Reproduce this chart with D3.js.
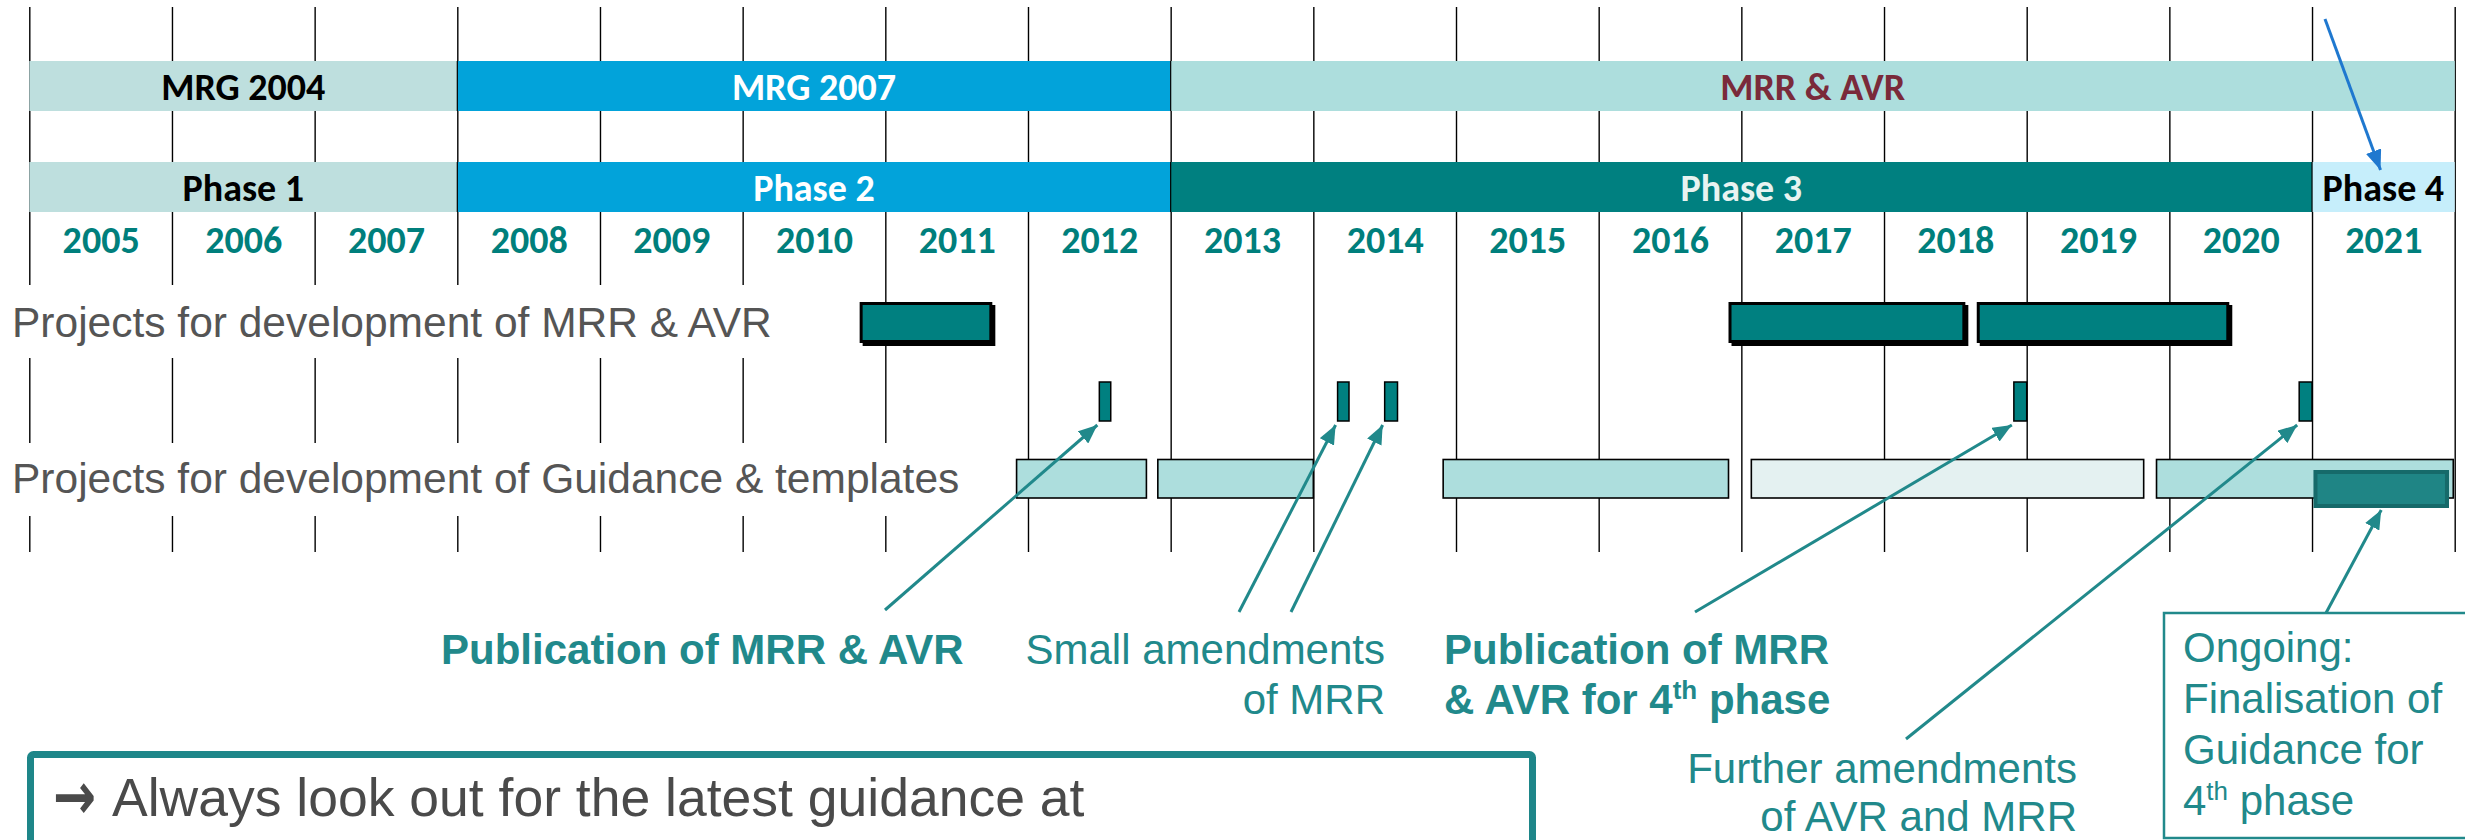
<!DOCTYPE html>
<html>
<head>
<meta charset="utf-8">
<script src="https://cdn.jsdelivr.net/npm/d3@7"></script>
<style>
  body { margin: 0; background: #fff; }
  svg { display: block; }
</style>
</head>
<body>
<svg id="chart"></svg>
<script>
// ---- data ----
const years = [2005, 2006, 2007, 2008, 2009, 2010, 2011, 2012, 2013,
  2014, 2015, 2016, 2017, 2018, 2019, 2020, 2021];

const guidelineNames = ["MRG 2004", "MRG 2007", "MRR & AVR"];
const guidelineStart = [2005, 2008, 2013];
const guidelineEnd = [2008, 2013, 2022];

const phaseNames = ["Phase 1", "Phase 2", "Phase 3", "Phase 4"];
const phaseStart = [2005, 2008, 2013, 2021];
const phaseEnd = [2008, 2013, 2021, 2022];

const rowLabels = [
  "Projects for development of MRR & AVR",
  "Projects for development of Guidance & templates"
];

// [start, end] in fractional years
const mrrProjects = [[2010.82, 2011.75], [2016.91, 2018.57], [2018.65, 2020.42]];
const amendments = [[2012.50, 2012.58], [2014.17, 2014.25], [2014.50, 2014.59],
  [2018.91, 2019.0], [2020.91, 2021.0]];
const guidanceProjects = [[2011.92, 2012.83], [2012.91, 2014.0], [2014.91, 2016.91],
  [2017.07, 2019.82], [2019.91, 2021.99]];
const guidanceLight = [false, false, false, true, false];
const ongoingProject = [2021.01, 2021.96];

const annotationLines = [
  ["Publication of MRR & AVR"],
  ["Small amendments", "of MRR"],
  ["Publication of MRR", "& AVR for 4th phase"],
  ["Further amendments", "of AVR and MRR"]
];
const annotationBold = [true, false, true, false];
const annotationTargets = [[0], [1, 2], [3], [4]];
const ongoingLines = ["Ongoing:", "Finalisation of", "Guidance for", "4th phase"];
const noteText = "Always look out for the latest guidance at";

// ---- setup ----
const W = 2465, H = 840;
const TEAL = "#008080", ANNO = "#21898B", LIGHT = "#ADDEDD";
const sans = "'Liberation Sans', Arial, sans-serif";
const calibri = "Carlito, Calibri, Lato, sans-serif";

const svg = d3.select("#chart").attr("width", W).attr("height", H);
const x = d3.scaleLinear().domain([2005, 2022]).range([29.3, 2454.7]);

const defs = svg.append("defs");
function arrowMarker(id, color, len, half) {
  defs.append("marker")
    .attr("id", id)
    .attr("markerUnits", "userSpaceOnUse")
    .attr("viewBox", `0 ${-half} ${len} ${half * 2}`)
    .attr("refX", len).attr("refY", 0)
    .attr("markerWidth", len).attr("markerHeight", half * 2)
    .attr("orient", "auto")
    .append("path")
    .attr("d", `M0,${-half}L${len},0L0,${half}Z`)
    .attr("fill", color);
}
arrowMarker("tealArrow", ANNO, 19, 8);
arrowMarker("blueArrow", "#1F78CF", 20, 8);

// superscript "th" after a digit
function richText(sel, str, supSize) {
  const parts = str.split(/(\d)(th)(?=\s)/);
  let raise = false;
  parts.forEach((p, i) => {
    if (!p) return;
    const sup = i % 3 === 2;
    const t = sel.append("tspan").text(p);
    if (sup) {
      t.attr("font-size", supSize).attr("dy", -15);
      raise = true;
    } else if (raise) {
      t.attr("dy", 15);
      raise = false;
    }
  });
}

// ---- grid lines ----
const boundaries = years.concat([years[years.length - 1] + 1]);
const grid = svg.append("g")
  .attr("transform", "translate(0,7)")
  .call(d3.axisBottom(x).tickValues(boundaries).tickSize(545).tickFormat(""));
grid.select(".domain").remove();
grid.selectAll(".tick line").attr("stroke", "#000").attr("stroke-width", 1.4);

// ---- guideline + phase bands ----
function band(names, starts, ends, y0, h, fills, textFills, baseline) {
  const g = svg.append("g");
  g.selectAll("rect").data(names).join("rect")
    .attr("x", (d, i) => x(starts[i]))
    .attr("y", y0)
    .attr("width", (d, i) => x(ends[i]) - x(starts[i]))
    .attr("height", h)
    .attr("fill", (d, i) => fills[i]);
  g.selectAll("line").data(starts.slice(1)).join("line")
    .attr("x1", d => x(d)).attr("x2", d => x(d))
    .attr("y1", y0).attr("y2", y0 + h)
    .attr("stroke", "#000").attr("stroke-width", 1.2);
  g.selectAll("text").data(names).join("text")
    .attr("x", (d, i) => (x(starts[i]) + x(ends[i])) / 2)
    .attr("y", baseline)
    .attr("text-anchor", "middle")
    .attr("font-family", calibri)
    .attr("font-weight", "bold")
    .attr("font-size", 38)
    .attr("fill", (d, i) => textFills[i])
    .text(d => d);
}
band(guidelineNames, guidelineStart, guidelineEnd, 61, 50,
  ["#BEDFDE", "#02A3DA", LIGHT], ["#000", "#fff", "#7A2A3A"], 100);
band(phaseNames, phaseStart, phaseEnd, 162, 50,
  ["#BEDFDE", "#02A3DA", TEAL, "#C6EEFB"], ["#000", "#fff", "#E8F3F1", "#000"], 201);

// ---- year labels ----
const yearAxis = svg.append("g")
  .attr("transform", "translate(0,253)")
  .call(d3.axisBottom(x).tickValues(years.map(d => d + 0.5))
    .tickFormat(d => Math.floor(d)).tickSize(0));
yearAxis.select(".domain").remove();
yearAxis.selectAll("text")
  .attr("y", 0).attr("dy", 0)
  .attr("font-family", calibri)
  .attr("font-weight", "bold")
  .attr("font-size", 38)
  .attr("fill", "#007F7C");

// ---- row labels (white boxes hide grid) ----
const labelBoxes = [[285, 790], [443, 968]];
const labelBase = [337, 493];
rowLabels.forEach((lab, i) => {
  svg.append("rect")
    .attr("x", 0).attr("y", labelBoxes[i][0])
    .attr("width", labelBoxes[i][1]).attr("height", 73)
    .attr("fill", "#fff");
  svg.append("text")
    .attr("x", 12).attr("y", labelBase[i])
    .attr("font-family", sans).attr("font-size", 42.5)
    .attr("fill", "#555")
    .text(lab);
});

// ---- MRR & AVR projects ----
const mrrG = svg.append("g");
mrrG.selectAll("rect.shadow").data(mrrProjects).join("rect")
  .attr("class", "shadow")
  .attr("x", d => x(d[0]) + 3).attr("y", 305)
  .attr("width", d => x(d[1]) - x(d[0])).attr("height", 41)
  .attr("fill", "#000");
mrrG.selectAll("rect.bar").data(mrrProjects).join("rect")
  .attr("class", "bar")
  .attr("x", d => x(d[0]) + 1.5).attr("y", 303.5)
  .attr("width", d => x(d[1]) - x(d[0]) - 3).attr("height", 38)
  .attr("fill", TEAL).attr("stroke", "#000").attr("stroke-width", 3);

// ---- amendment markers ----
svg.append("g").selectAll("rect").data(amendments).join("rect")
  .attr("x", d => x(d[0])).attr("y", 382)
  .attr("width", d => x(d[1]) - x(d[0])).attr("height", 39)
  .attr("fill", TEAL).attr("stroke", "#000").attr("stroke-width", 1.5);

// ---- guidance projects ----
svg.append("g").selectAll("rect").data(guidanceProjects).join("rect")
  .attr("x", d => x(d[0])).attr("y", 459.5)
  .attr("width", d => x(d[1]) - x(d[0])).attr("height", 38.5)
  .attr("fill", (d, i) => guidanceLight[i] ? "#E4F1F1" : LIGHT)
  .attr("stroke", "#000").attr("stroke-width", 1.6);

svg.append("rect")
  .attr("x", x(ongoingProject[0]) + 2).attr("y", 472)
  .attr("width", x(ongoingProject[1]) - x(ongoingProject[0]) - 4).attr("height", 34)
  .attr("fill", "#1F8585").attr("stroke", "#166A6A").attr("stroke-width", 4);

// ---- annotations ----
const annoPos = [
  { x: 441, anchor: "start", base: 664, gap: 50, from: [[885, 610]] },
  { x: 1385, anchor: "end", base: 664, gap: 50, from: [[1239, 612], [1291, 612]] },
  { x: 1444, anchor: "start", base: 664, gap: 50, from: [[1695, 612]] },
  { x: 2077, anchor: "end", base: 783, gap: 48, from: [[1906, 739]] }
];
annotationLines.forEach((lines, i) => {
  const p = annoPos[i];
  lines.forEach((ln, j) => {
    const t = svg.append("text")
      .attr("x", p.x).attr("y", p.base + j * p.gap)
      .attr("text-anchor", p.anchor)
      .attr("font-family", sans).attr("font-size", 42)
      .attr("font-weight", annotationBold[i] ? "bold" : "normal")
      .attr("fill", ANNO);
    richText(t, ln, 26);
  });
  annotationTargets[i].forEach((k, j) => {
    const m = amendments[k];
    svg.append("line")
      .attr("x1", p.from[j][0]).attr("y1", p.from[j][1])
      .attr("x2", x(m[0]) - 2).attr("y2", 425)
      .attr("stroke", ANNO).attr("stroke-width", 3)
      .attr("marker-end", "url(#tealArrow)");
  });
});

// ongoing box
svg.append("rect")
  .attr("x", 2164).attr("y", 613)
  .attr("width", 340).attr("height", 225)
  .attr("fill", "none").attr("stroke", ANNO).attr("stroke-width", 2.5);
ongoingLines.forEach((ln, j) => {
  const t = svg.append("text")
    .attr("x", 2183).attr("y", 662 + j * 51)
    .attr("font-family", sans).attr("font-size", 42)
    .attr("fill", ANNO);
  richText(t, ln, 26);
});
svg.append("line")
  .attr("x1", 2326).attr("y1", 613)
  .attr("x2", x((ongoingProject[0] + ongoingProject[1]) / 2)).attr("y2", 510)
  .attr("stroke", ANNO).attr("stroke-width", 3)
  .attr("marker-end", "url(#tealArrow)");

// blue arrow to phase 4
svg.append("line")
  .attr("x1", 2325).attr("y1", 19)
  .attr("x2", x(phaseStart[3] + 0.48)).attr("y2", 170)
  .attr("stroke", "#1F78CF").attr("stroke-width", 3)
  .attr("marker-end", "url(#blueArrow)");

// ---- note box ----
svg.append("rect")
  .attr("x", 30.5).attr("y", 754.5)
  .attr("width", 1502).attr("height", 120)
  .attr("rx", 3)
  .attr("fill", "none").attr("stroke", "#1E8689").attr("stroke-width", 7);
svg.append("text")
  .attr("transform", "translate(53,819) scale(0.78,1)")
  .attr("font-family", "'DejaVu Sans', sans-serif")
  .attr("font-weight", "bold")
  .attr("font-size", 66)
  .attr("fill", "#4A4A4A")
  .text("\u2192");
svg.append("text")
  .attr("x", 112).attr("y", 816)
  .attr("font-family", sans).attr("font-size", 53.5)
  .attr("fill", "#4A4A4A")
  .text(noteText);
</script>
</body>
</html>
